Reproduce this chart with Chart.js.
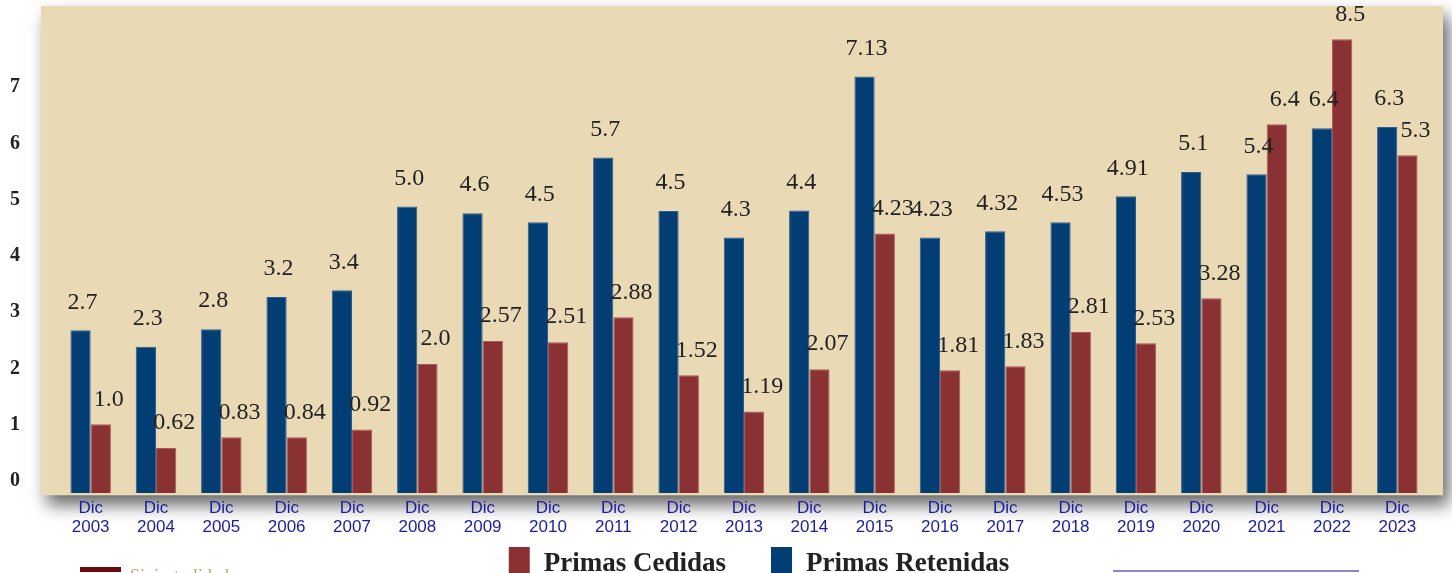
<!DOCTYPE html>
<html>
<head>
<meta charset="utf-8">
<script src="https://cdn.jsdelivr.net/npm/chart.js@4/dist/chart.umd.min.js"></script>
<style>
  html, body { margin: 0; padding: 0; background: #fff; overflow: hidden; }
  #wrap { width: 1452px; height: 600px; }
</style>
</head>
<body>
<div id="wrap"><canvas id="chart" width="1452" height="600"></canvas></div>
<script>
// categories and values
const years = ['2003', '2004', '2005', '2006', '2007', '2008', '2009', '2010', '2011', '2012', '2013',
               '2014', '2015', '2016', '2017', '2018', '2019', '2020', '2021', '2022', '2023'];
const retenidas = [2.68, 2.39, 2.70, 3.27, 3.39, 4.88, 4.76, 4.60, 5.75, 4.80, 4.33,
                   4.81, 7.19, 4.33, 4.44, 4.60, 5.06, 5.49, 5.45, 6.27, 6.29];
const cedidas = [1.01, 0.59, 0.78, 0.78, 0.92, 2.08, 2.49, 2.47, 2.91, 1.88, 1.24,
                 1.99, 4.40, 1.97, 2.04, 2.65, 2.45, 3.25, 6.34, 7.85, 5.79];
// value labels as printed on the chart
const retenidasText = ['2.7', '2.3', '2.8', '3.2', '3.4', '5.0', '4.6', '4.5', '5.7', '4.5', '4.3',
                       '4.4', '7.13', '4.23', '4.32', '4.53', '4.91', '5.1', '5.4', '6.4', '6.3'];
const cedidasText = ['1.0', '0.62', '0.83', '0.84', '0.92', '2.0', '2.57', '2.51', '2.88', '1.52', '1.19',
                     '2.07', '4.23', '1.81', '1.83', '2.81', '2.53', '3.28', '6.4', '8.5', '5.3'];
const yTicks = [0, 1, 2, 3, 4, 5, 6, 7];

const BLUE = '#023e74';
const RED = '#8a3134';
const SERIF = '"Liberation Serif", "Times New Roman", serif';

// tan panel with a soft shadow underneath
const panel = {
    id: 'panel',
    beforeDraw(chart) {
        const { ctx, chartArea: a } = chart;
        ctx.save();
        ctx.shadowColor = 'rgba(0,0,0,0.6)';
        ctx.shadowBlur = 16;
        ctx.shadowOffsetX = 6;
        ctx.shadowOffsetY = 10;
        ctx.fillStyle = '#ead9b5';
        ctx.fillRect(a.left - 17, a.top, a.right - a.left + 30, a.bottom - a.top);
        ctx.restore();
    },
    afterDraw(chart) {
        const ctx = chart.ctx;
        ctx.save();
        // legend, Cedidas first
        const items = [chart.data.datasets[1], chart.data.datasets[0]];
        ctx.font = 'bold 27px ' + SERIF;
        ctx.textBaseline = 'middle';
        ctx.textAlign = 'left';
        const widths = items.map((d) => ctx.measureText(d.label).width);
        const total = widths.reduce((s, w) => s + 21 + 14 + w, 0) + 45;
        let x = 759 - total / 2;
        items.forEach((d, i) => {
            ctx.fillStyle = d.backgroundColor;
            ctx.fillRect(x, 547, 21, 27);
            ctx.fillStyle = '#222';
            ctx.fillText(d.label, x + 35, 564);
            x += 35 + widths[i] + 45;
        });

        // leftovers cut by the bottom edge of the picture
        ctx.fillStyle = '#6b0a0a';
        ctx.fillRect(80, 567, 41, 5);
        ctx.fillStyle = '#c9a25a';
        ctx.font = '18px ' + SERIF;
        ctx.textBaseline = 'top';
        ctx.fillText('Siniestralidad', 130, 568);
        ctx.strokeStyle = '#8a8ad0';
        ctx.lineWidth = 2;
        ctx.beginPath();
        ctx.moveTo(1113, 571);
        ctx.lineTo(1359, 571);
        ctx.stroke();
        ctx.restore();
    }
};

// value labels above each bar
const valueLabels = {
    id: 'valueLabels',
    afterDatasetsDraw(chart) {
        const ctx = chart.ctx;
        const texts = [retenidasText, cedidasText];
        ctx.save();
        ctx.font = '24px ' + SERIF;
        ctx.fillStyle = '#222';
        ctx.textAlign = 'center';
        ctx.textBaseline = 'middle';
        chart.data.datasets.forEach((ds, i) => {
            chart.getDatasetMeta(i).data.forEach((bar, j) => {
                ctx.fillText(texts[i][j], bar.x + (i === 1 ? 8 : 2), bar.y - (i === 1 ? 25 : 28));
            });
        });
        ctx.restore();
    }
};

new Chart(document.getElementById('chart'), {
    type: 'bar',
    data: {
        labels: years.map((y) => ['Dic', y]),
        datasets: [
            {
                label: 'Primas Retenidas',
                data: retenidas,
                backgroundColor: BLUE,
                borderColor: '#2f5c8c',
                borderWidth: 1,
                base: -0.21,
            },
            {
                label: 'Primas Cedidas',
                data: cedidas,
                backgroundColor: RED,
                borderColor: '#a85a5a',
                borderWidth: 1,
                base: -0.21,
            },
        ],
    },
    options: {
        responsive: false,
        animation: false,
        devicePixelRatio: 1,
        categoryPercentage: 0.62,
        barPercentage: 1.0,
        layout: { padding: { top: 6, left: 10, right: 22, bottom: 60 } },
        scales: {
            x: {
                grid: { display: false, drawTicks: false },
                border: { display: false },
                ticks: {
                    color: '#1c1c9c',
                    font: { family: '"Liberation Sans", Arial, sans-serif', size: 17, lineHeight: 1.08 },
                    padding: 4,
                    maxRotation: 0,
                    autoSkip: false,
                },
            },
            y: {
                min: -0.25,
                max: 8.44,
                afterBuildTicks(axis) {
                    axis.ticks = yTicks.map((v) => ({ value: v }));
                },
                afterFit(axis) {
                    axis.width = 48;
                    axis.paddingTop = 0;
                    axis.paddingBottom = 0;
                },
                grid: { display: false, drawTicks: false },
                border: { display: false },
                ticks: {
                    color: '#222',
                    crossAlign: 'far',
                    padding: 0,
                    font: { family: SERIF, size: 20, weight: 'bold' },
                },
            },
        },
        plugins: {
            tooltip: { enabled: false },
            legend: { display: false },
        },
    },
    plugins: [panel, valueLabels],
});
</script>
</body>
</html>
